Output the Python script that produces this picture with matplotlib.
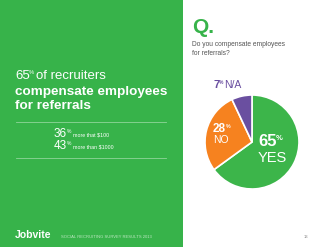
import matplotlib.pyplot as plt
from matplotlib.patches import Rectangle

# survey answers
labels = ['YES', 'NO', 'N/A']
shares = [65, 28, 7]
colors = ['#3cb54a', '#f6821f', '#6a4fa0']

# left panel figures
headline_pct = 65
tiers = ['more that $100', 'more than $1000']
tier_pct = [36, 43]

green = '#37b34a'
W, H = 320, 247
font = 'Liberation Sans'

fig = plt.figure(figsize=(3.2, 2.47), dpi=100)

# pie first so the overlay texts sit on top
cx, cy, r = 252, 142, 47
ax = fig.add_axes([(cx - r) / W, (H - cy - r) / H, 2 * r / W, 2 * r / H])
ax.pie(shares, colors=colors, startangle=90, counterclock=False,
       radius=1, wedgeprops=dict(edgecolor='white', linewidth=1.2))
ax.set_xlim(-1, 1)
ax.set_ylim(-1, 1)
ax.set_aspect('auto')
ax.axis('off')

bg = fig.add_axes([0, 0, 1, 1], zorder=-1)
bg.set_xlim(0, W)
bg.set_ylim(H, 0)
bg.axis('off')
bg.add_patch(Rectangle((0, 0), 183, H, color=green, lw=0))

top = fig.add_axes([0, 0, 1, 1], zorder=5)
top.set_xlim(0, W)
top.set_ylim(H, 0)
top.axis('off')
renderer = fig.canvas.get_renderer()


def right_edge(t):
    bb = t.get_window_extent(renderer)
    return top.transData.inverted().transform((bb.x1, bb.y0))[0]


def pct(x, y, num, size, color, weight='normal', psize=None, rise=None):
    psize = psize or size * 0.45
    rise = rise if rise is not None else size * 0.55
    t = top.text(x, y, num, color=color, fontsize=size, family=font,
                 fontweight=weight, va='baseline')
    p = top.text(right_edge(t) - 0.6, y - rise, '%', color=color,
                 fontsize=psize, family=font, fontweight=weight,
                 va='baseline')
    return right_edge(p)


# left panel
x = pct(15, 79, f'{headline_pct}', 9.5, 'white', rise=5)
top.text(x + 1.8, 79, 'of recruiters', color='white', fontsize=9.5,
         family=font, va='baseline')
top.text(15, 95, 'compensate employees', color='white', fontsize=9.7,
         family=font, fontweight='bold', va='baseline')
top.text(15, 109, 'for referrals', color='white', fontsize=9.7,
         family=font, fontweight='bold', va='baseline')

top.plot([16, 166], [122, 122], color='#8fd59a', lw=0.6)
top.plot([16, 166], [158, 158], color='#8fd59a', lw=0.6)

for i, (p, t) in enumerate(zip(tier_pct, tiers)):
    y = 137 + i * 12
    x = pct(54, y, f'{p}', 8.5, 'white', psize=3.6, rise=4.5)
    top.text(x + 2.5, y - 1, t, color='white', fontsize=3.8, family=font,
             va='baseline')

top.text(15, 238, 'Jobvite', color='white', fontsize=7.5, family=font,
         fontweight='bold', va='baseline')
top.text(61, 238, 'SOCIAL RECRUITING SURVEY RESULTS 2013', color='#bfe8c4',
         fontsize=3.0, family=font, va='baseline')

# right panel
top.text(192, 33, 'Q.', color=green, fontsize=15, family=font,
         fontweight='bold', va='baseline')
top.text(192, 46, 'Do you compensate employees', color='#555555',
         fontsize=4.8, family=font, va='baseline')
top.text(192, 54.5, 'for referrals?', color='#555555', fontsize=4.8,
         family=font, va='baseline')
top.text(304, 238, '13', color='#888888', fontsize=3, family=font,
         va='baseline')

# slice labels
x = pct(213, 88, f'{shares[2]}', 8, colors[2], 'bold', psize=3.6, rise=4)
top.text(x + 1.5, 88, labels[2], color=colors[2], fontsize=7.5, family=font,
         va='baseline')

pct(213, 132, f'{shares[1]}', 8.5, 'white', 'bold', psize=3.8, rise=4.5)
top.text(213.5, 143, labels[1], color='white', fontsize=7.5, family=font,
         va='baseline')

pct(258, 146, f'{shares[0]}', 12, 'white', 'bold', psize=5.5, rise=6)
top.text(258, 162, labels[0], color='white', fontsize=10.5, family=font,
         va='baseline')

fig.savefig('out.png', dpi=100)
